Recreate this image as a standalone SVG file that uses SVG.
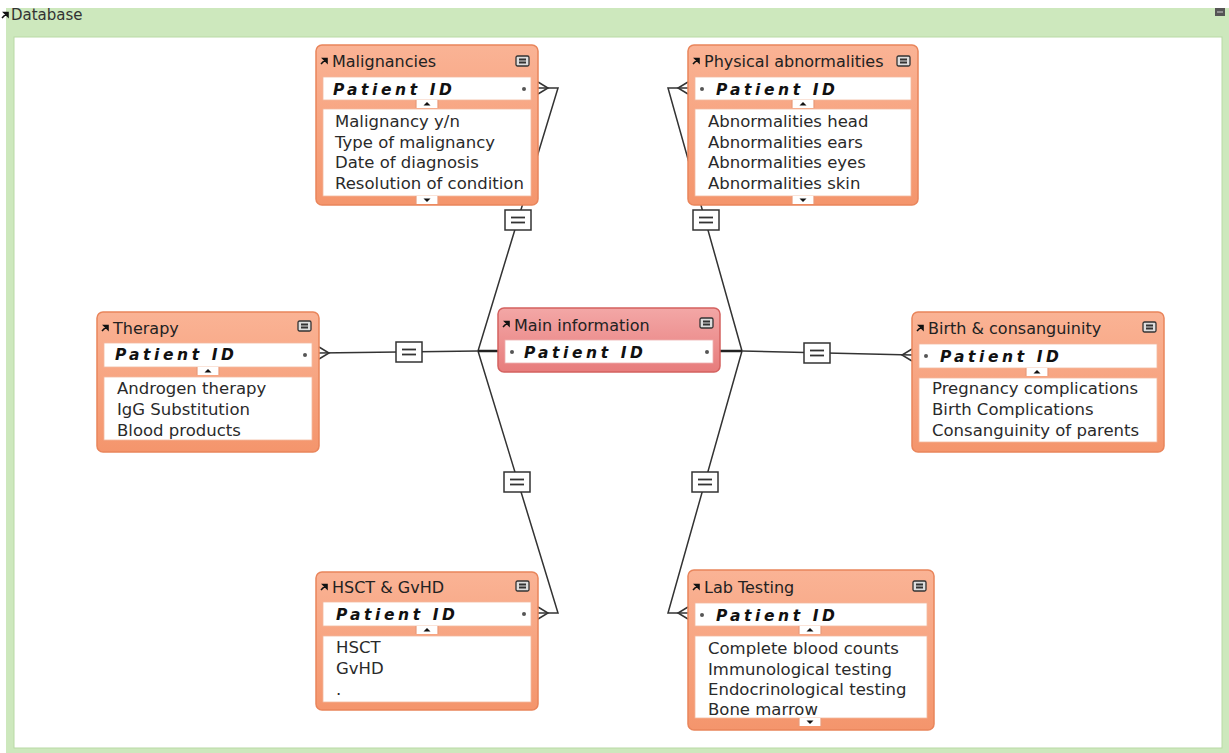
<svg xmlns="http://www.w3.org/2000/svg" width="1229" height="753" viewBox="0 0 1229 753">
<defs>
<linearGradient id="gOr" x1="0" y1="0" x2="0" y2="1">
<stop offset="0" stop-color="#fab395"/>
<stop offset="1" stop-color="#f4956c"/>
</linearGradient>
<linearGradient id="gRd" x1="0" y1="0" x2="0" y2="1">
<stop offset="0" stop-color="#f3a7a6"/>
<stop offset="1" stop-color="#e77c7c"/>
</linearGradient>
<g id="icoMin">
<rect x="0" y="0" width="13" height="10" rx="1.5" fill="#ddd" stroke="#333" stroke-width="1.3"/>
<rect x="3" y="2.5" width="7" height="2" fill="#333"/>
<rect x="3" y="5.5" width="7" height="2" fill="#333"/>
</g>
<path id="icoArr" d="M0,7 L5,2 M2,1.5 L6,1.5 L6,5.5 Z" stroke="#111" stroke-width="1.6" fill="#111"/>
<g id="eqBox">
<rect x="-13" y="-10" width="26" height="20" fill="#fff" stroke="#333" stroke-width="1.5"/>
<line x1="-7" y1="-2.5" x2="7" y2="-2.5" stroke="#333" stroke-width="1.8"/>
<line x1="-7" y1="2.5" x2="7" y2="2.5" stroke="#333" stroke-width="1.8"/>
</g>
<g id="tabUp">
<rect x="-11" y="0" width="22" height="8" fill="#fff"/>
<line x1="-11" y1="0" x2="-11" y2="8" stroke="#e89a7a" stroke-width="1.2"/>
<line x1="11" y1="0" x2="11" y2="8" stroke="#e89a7a" stroke-width="1.2"/>
<path d="M-3.5,5.5 L0,2 L3.5,5.5 Z" fill="#111"/>
</g>
<g id="tabDn">
<rect x="-11" y="0" width="22" height="8" fill="#fff"/>
<line x1="-11" y1="0" x2="-11" y2="8" stroke="#e89a7a" stroke-width="1.2"/>
<line x1="11" y1="0" x2="11" y2="8" stroke="#e89a7a" stroke-width="1.2"/>
<path d="M-3.5,2.5 L0,6 L3.5,2.5 Z" fill="#111"/>
</g>
</defs>
<style>
.box{fill:url(#gOr);stroke:#e9855b;stroke-width:1.5}
.boxm{fill:url(#gRd);stroke:#d4615f;stroke-width:1.5}
.wh{fill:#fff;stroke:#f3b89e;stroke-width:0.8}
.ttl{font-family:"DejaVu Sans",sans-serif;font-size:16px;fill:#222}
.pid{font-family:"DejaVu Sans",sans-serif;font-size:15.5px;font-weight:bold;font-style:italic;letter-spacing:3.6px;fill:#111}
.fld{font-family:"DejaVu Sans",sans-serif;font-size:16.5px;fill:#2a2a2a}
.dot{fill:#555}
.ln{stroke:#333;stroke-width:1.5;fill:none}
.lnb{stroke:#222;stroke-width:2.5;fill:none}
.db{font-family:"DejaVu Sans",sans-serif;font-size:15px;fill:#333}
</style>

<g id="frame">
<rect x="6" y="8" width="1223" height="745" fill="#cde8bd"/>
<rect x="14" y="37" width="1208" height="711" fill="#fff" stroke="#b9d9a6" stroke-width="1"/>
<use href="#icoArr" x="2" y="11"/>
<text class="db" x="11" y="20">Database</text>
<rect x="1215" y="8" width="10" height="8" fill="#555"/>
<line x1="1217" y1="12" x2="1223" y2="12" stroke="#ccc" stroke-width="1"/>
</g>

<g id="connectors">
<polyline class="ln" points="538,88 558,88 478,351"/>
<path class="ln" d="M538,82 L548,88 L538,94"/>
<polyline class="ln" points="688,88 668,88 742,351"/>
<path class="ln" d="M688,82 L678,88 L688,94"/>
<polyline class="ln" points="319,353 478,351"/>
<path class="ln" d="M319,347 L329,353 L319,359"/>
<polyline class="ln" points="538,613 558,613 478,351"/>
<path class="ln" d="M538,607 L548,613 L538,619"/>
<polyline class="ln" points="742,351 912,355"/>
<path class="ln" d="M912,349 L902,355 L912,361"/>
<polyline class="ln" points="688,613 668,613 742,351"/>
<path class="ln" d="M688,607 L678,613 L688,619"/>
<line class="lnb" x1="478" y1="351" x2="498" y2="351"/>
<line class="lnb" x1="720" y1="351" x2="742" y2="351"/>
<use href="#eqBox" x="518" y="220"/>
<use href="#eqBox" x="706" y="220"/>
<use href="#eqBox" x="409" y="352"/>
<use href="#eqBox" x="817" y="353"/>
<use href="#eqBox" x="517" y="482"/>
<use href="#eqBox" x="705" y="482"/>
</g>

<g id="malignancies">
<rect class="box" x="316" y="45" width="222" height="160" rx="6"/>
<use href="#icoArr" x="321" y="57"/>
<text class="ttl" x="332" y="67">Malignancies</text>
<use href="#icoMin" x="516" y="56"/>
<rect class="wh" x="323" y="77" width="208" height="23"/>
<text class="pid" x="333" y="95">Patient ID</text>
<circle class="dot" cx="524" cy="89" r="2"/>
<use href="#tabUp" x="427" y="100"/>
<rect class="wh" x="323" y="109" width="208" height="87"/>
<text class="fld" x="335" y="127">Malignancy y/n</text>
<text class="fld" x="335" y="148">Type of malignancy</text>
<text class="fld" x="335" y="168">Date of diagnosis</text>
<text class="fld" x="335" y="189">Resolution of condition</text>
<use href="#tabDn" x="427" y="196"/>
</g>

<g id="physical">
<rect class="box" x="688" y="45" width="230" height="160" rx="6"/>
<use href="#icoArr" x="693" y="57"/>
<text class="ttl" x="704" y="67">Physical abnormalities</text>
<use href="#icoMin" x="897" y="56"/>
<rect class="wh" x="695" y="77" width="216" height="23"/>
<circle class="dot" cx="702" cy="89" r="2"/>
<text class="pid" x="716" y="95">Patient ID</text>
<use href="#tabUp" x="803" y="100"/>
<rect class="wh" x="695" y="109" width="216" height="87"/>
<text class="fld" x="708" y="127">Abnormalities head</text>
<text class="fld" x="708" y="148">Abnormalities ears</text>
<text class="fld" x="708" y="168">Abnormalities eyes</text>
<text class="fld" x="708" y="189">Abnormalities skin</text>
<use href="#tabDn" x="803" y="196"/>
</g>

<g id="main">
<rect class="boxm" x="498" y="308" width="222" height="64" rx="6"/>
<use href="#icoArr" x="503" y="320"/>
<text class="ttl" x="514" y="331">Main information</text>
<use href="#icoMin" x="700" y="318"/>
<rect class="wh" x="505" y="340" width="208" height="23" style="stroke:#eeb0b0"/>
<circle class="dot" cx="512" cy="352" r="2"/>
<text class="pid" x="524" y="358">Patient ID</text>
<circle class="dot" cx="707" cy="352" r="2"/>
</g>

<g id="therapy">
<rect class="box" x="97" y="312" width="222" height="140" rx="6"/>
<use href="#icoArr" x="102" y="324"/>
<text class="ttl" x="113" y="334">Therapy</text>
<use href="#icoMin" x="298" y="321"/>
<rect class="wh" x="104" y="343" width="208" height="24"/>
<text class="pid" x="115" y="360">Patient ID</text>
<circle class="dot" cx="305" cy="355" r="2"/>
<use href="#tabUp" x="208" y="367"/>
<rect class="wh" x="104" y="377" width="208" height="63"/>
<text class="fld" x="117" y="394">Androgen therapy</text>
<text class="fld" x="117" y="415">IgG Substitution</text>
<text class="fld" x="117" y="436">Blood products</text>
</g>

<g id="birth">
<rect class="box" x="912" y="312" width="252" height="140" rx="6"/>
<use href="#icoArr" x="917" y="324"/>
<text class="ttl" x="928" y="334">Birth &amp; consanguinity</text>
<use href="#icoMin" x="1143" y="322"/>
<rect class="wh" x="919" y="344" width="238" height="24"/>
<circle class="dot" cx="926" cy="356" r="2"/>
<text class="pid" x="940" y="362">Patient ID</text>
<use href="#tabUp" x="1037" y="368"/>
<rect class="wh" x="919" y="378" width="238" height="64"/>
<text class="fld" x="932" y="394">Pregnancy complications</text>
<text class="fld" x="932" y="415">Birth Complications</text>
<text class="fld" x="932" y="436">Consanguinity of parents</text>
</g>

<g id="hsct">
<rect class="box" x="316" y="572" width="222" height="138" rx="6"/>
<use href="#icoArr" x="321" y="583"/>
<text class="ttl" x="332" y="593">HSCT &amp; GvHD</text>
<use href="#icoMin" x="516" y="581"/>
<rect class="wh" x="323" y="602" width="208" height="24"/>
<text class="pid" x="336" y="620">Patient ID</text>
<circle class="dot" cx="524" cy="614" r="2"/>
<use href="#tabUp" x="427" y="626"/>
<rect class="wh" x="323" y="636" width="208" height="66"/>
<text class="fld" x="336" y="653">HSCT</text>
<text class="fld" x="336" y="674">GvHD</text>
<text class="fld" x="336" y="695">.</text>
</g>

<g id="lab">
<rect class="box" x="688" y="570" width="246" height="160" rx="6"/>
<use href="#icoArr" x="693" y="583"/>
<text class="ttl" x="704" y="593">Lab Testing</text>
<use href="#icoMin" x="913" y="581"/>
<rect class="wh" x="695" y="603" width="232" height="23"/>
<circle class="dot" cx="702" cy="615" r="2"/>
<text class="pid" x="716" y="621">Patient ID</text>
<use href="#tabUp" x="810" y="626"/>
<rect class="wh" x="695" y="636" width="232" height="82"/>
<text class="fld" x="708" y="654">Complete blood counts</text>
<text class="fld" x="708" y="675">Immunological testing</text>
<text class="fld" x="708" y="695">Endocrinological testing</text>
<text class="fld" x="708" y="715">Bone marrow</text>
<use href="#tabDn" x="810" y="718"/>
</g>
</svg>
